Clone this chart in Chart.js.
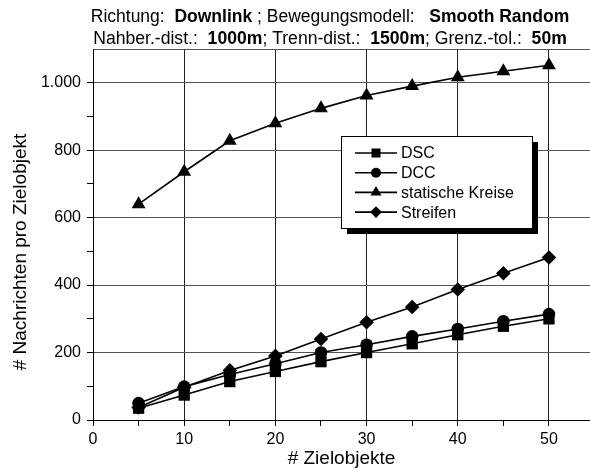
<!DOCTYPE html>
<html>
<head>
<meta charset="utf-8">
<script src="https://cdn.jsdelivr.net/npm/chart.js@4/dist/chart.umd.min.js"></script>
<style>
    html, body { margin: 0; padding: 0; background: #fff; }
    #wrap { width: 590px; height: 471px; position: relative; }
</style>
</head>
<body>
<div id="wrap"><canvas id="chart"></canvas></div>
<script>
// Daten
const zielobjekte = [5, 10, 15, 20, 25, 30, 35, 40, 45, 50];
const dsc = [35, 74, 114, 144, 173, 200, 226, 253, 278, 300];
const dcc = [50, 99, 135, 167, 200, 223, 248, 270, 293, 314];
const statischeKreise = [640, 736, 828, 880, 924, 962, 990, 1016, 1034, 1052];
const streifen = [37, 97, 147, 190, 240, 290, 335, 387, 435, 482];

const seriesNames = ['DSC', 'DCC', 'statische Kreise', 'Streifen'];
const xTicks = [0, 5, 10, 15, 20, 25, 30, 35, 40, 45, 50];

const titleLine1 = [['Richtung:  ', false], ['Downlink', true], [' ; Bewegungsmodell:   ', false], ['Smooth Random', true]];
const titleLine2 = [['Nahber.-dist.:  ', false], ['1000m', true], ['; Trenn-dist.:  ', false], ['1500m', true], ['; Grenz.-tol.:  ', false], ['50m', true]];

const FONT = '"Liberation Sans", Arial, Helvetica, sans-serif';

const toPoints = (values) => values.map((v, i) => ({ x: zielobjekte[i], y: v }));
const formatDE = (v) => String(v).replace(/\B(?=(\d{3})+(?!\d))/g, '.');

function makeDataset(label, values, pointStyle, radius) {
    return {
        label,
        data: toPoints(values),
        borderColor: '#000',
        backgroundColor: '#000',
        borderWidth: 1.6,
        pointStyle,
        pointRadius: radius,
        pointBorderWidth: 0,
        pointBackgroundColor: '#000',
        tension: 0
    };
}

function drawRichLine(ctx, parts, cx, cy, size) {
    const widths = parts.map(([text, bold]) => {
        ctx.font = `${bold ? 'bold ' : ''}${size}px ${FONT}`;
        return ctx.measureText(text).width;
    });
    const total = widths.reduce((a, b) => a + b, 0);
    let x = cx - total / 2;
    parts.forEach(([text, bold], i) => {
        ctx.font = `${bold ? 'bold ' : ''}${size}px ${FONT}`;
        ctx.fillText(text, x, cy);
        x += widths[i];
    });
}

const textPlugin = {
    id: 'textPlugin',
    afterDraw(chart) {
        const ctx = chart.ctx;
        const area = chart.chartArea;
        ctx.save();
        ctx.fillStyle = '#000';
        ctx.textBaseline = 'middle';
        ctx.textAlign = 'left';
        drawRichLine(ctx, titleLine1, 330, 17, 17.5);
        drawRichLine(ctx, titleLine2, 330, 39, 17.6);

        // Achsentitel
        ctx.font = `19px ${FONT}`;
        ctx.textAlign = 'center';
        ctx.fillText('# Zielobjekte', (area.left + area.right) / 2, 459);
        ctx.translate(21, 252);
        ctx.rotate(-Math.PI / 2);
        ctx.fillText('# Nachrichten pro Zielobjekt', 0, 0);
        ctx.restore();
    }
};

const legendPlugin = {
    id: 'boxLegend',
    afterDatasetsDraw(chart) {
        const ctx = chart.ctx;
        const box = { x: 341, y: 136, w: 191, h: 92 };
        ctx.save();
        ctx.fillStyle = '#000';
        ctx.fillRect(box.x + 6, box.y + 6, box.w, box.h);
        ctx.fillStyle = '#fff';
        ctx.fillRect(box.x, box.y, box.w, box.h);
        ctx.strokeStyle = '#000';
        ctx.lineWidth = 1;
        ctx.strokeRect(box.x + 0.5, box.y + 0.5, box.w, box.h);

        chart.data.datasets.forEach((ds, i) => {
            const y = 153 + i * 19.7;
            ctx.strokeStyle = '#000';
            ctx.lineWidth = 1.6;
            ctx.beginPath();
            ctx.moveTo(355, y);
            ctx.lineTo(397, y);
            ctx.stroke();
            ctx.fillStyle = '#000';
            Chart.helpers.drawPoint(ctx, {
                pointStyle: ds.pointStyle,
                radius: ds.pointRadius * 0.8,
                rotation: 0,
                borderWidth: 0
            }, 376, y);
            ctx.font = `16px ${FONT}`;
            ctx.textBaseline = 'middle';
            ctx.textAlign = 'left';
            ctx.fillText(ds.label, 401, y + 1);
        });
        ctx.restore();
    }
};

new Chart(document.getElementById('chart'), {
    type: 'line',
    data: {
        datasets: [
            makeDataset(seriesNames[0], dsc, 'rect', 8),
            makeDataset(seriesNames[1], dcc, 'circle', 6.3),
            makeDataset(seriesNames[2], statischeKreise, 'triangle', 8),
            makeDataset(seriesNames[3], streifen, 'rectRot', 7.3)
        ]
    },
    options: {
        responsive: true,
        maintainAspectRatio: false,
        animation: false,
        events: [],
        layout: { padding: { top: 49, left: 0, right: 0, bottom: 0 }, autoPadding: false },
        plugins: {
            legend: { display: false },
            tooltip: { enabled: false },
            title: { display: false }
        },
        scales: {
            x: {
                type: 'linear',
                min: 0,
                max: 54.5,
                afterBuildTicks: (scale) => { scale.ticks = xTicks.map(v => ({ value: v })); },
                afterFit: (scale) => { scale.height = 51; },
                border: { color: '#000', width: 1 },
                grid: {
                    color: (ctx) => (ctx.tick && ctx.tick.value % 10 === 0 && ctx.tick.value > 0) ? '#222' : 'rgba(0,0,0,0)',
                    tickColor: '#000',
                    tickLength: 6,
                    lineWidth: 1
                },
                ticks: {
                    color: '#000',
                    padding: 4,
                    maxRotation: 0,
                    autoSkip: false,
                    font: { family: FONT, size: 16 },
                    callback: (v) => (v % 10 === 0 ? v : '')
                }
            },
            y: {
                min: 0,
                max: 1100,
                afterFit: (scale) => { scale.width = 93; },
                border: { color: '#000', width: 1 },
                grid: {
                    color: (ctx) => (ctx.tick && ctx.tick.value % 200 === 0 && ctx.tick.value > 0) || (ctx.tick && ctx.tick.value === 1100) ? '#555' : 'rgba(0,0,0,0)',
                    tickColor: (ctx) => (ctx.tick && ctx.tick.value < 1100) ? '#000' : 'rgba(0,0,0,0)',
                    tickLength: 6,
                    lineWidth: 1
                },
                ticks: {
                    stepSize: 100,
                    color: '#000',
                    padding: 6,
                    autoSkip: false,
                    font: { family: FONT, size: 16 },
                    callback: (v) => (v % 200 === 0 && v <= 1000 ? formatDE(v) : '')
                }
            }
        }
    },
    plugins: [legendPlugin, textPlugin]
});
</script>
</body>
</html>
